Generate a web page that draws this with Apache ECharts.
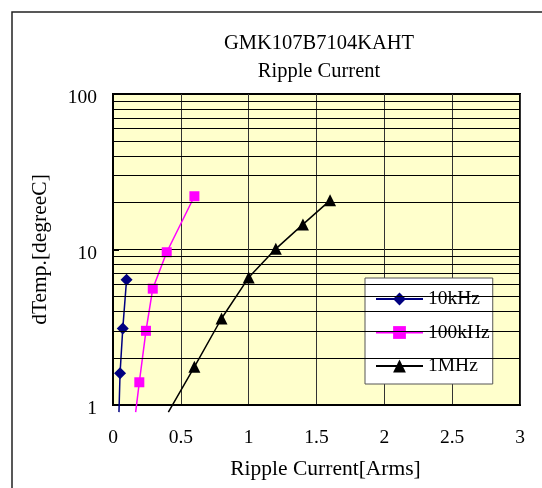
<!DOCTYPE html>
<html>
<head>
<meta charset="utf-8">
<script src="https://cdn.jsdelivr.net/npm/echarts@6/dist/echarts.min.js"></script>
<style>html,body{margin:0;padding:0;background:#fff;}#c{width:542px;height:488px;}</style>
</head>
<body>
<div id="c"></div>
<script>
// ---- data ----
var titleLines = ['GMK107B7104KAHT', 'Ripple Current'];
var xTicks = [0, 0.5, 1, 1.5, 2, 2.5, 3];
var yTicks = [1, 10, 100];
var minorGridValues = [2, 3, 4, 5, 6, 7, 8, 9, 20, 30, 40, 50, 60, 70, 80, 90];
var seriesNames = ['10kHz', '100kHz', '1MHz'];
// [current (Arms), dTemp (degC)]; first point of each lies just below the axis (drawn without marker)
var s10kHz = [[0.044, 0.9], [0.052, 1.6], [0.072, 3.1], [0.10, 6.4]];
var s100kHz = [[0.167, 0.9], [0.194, 1.4], [0.243, 3.0], [0.293, 5.6], [0.396, 9.6], [0.60, 22]];
var s1MHz = [[0.408, 0.9], [0.60, 1.76], [0.80, 3.6], [1.00, 6.6], [1.20, 10.1], [1.40, 14.5], [1.60, 20.7]];

var FONT = '"Liberation Serif", "Times New Roman", serif';

function toData(arr) {
  return arr.map(function (p) {
    if (p[1] < 1) return { value: p, symbol: 'none' };
    return { value: p };
  });
}

var chart = echarts.init(document.getElementById('c'), null, { renderer: 'canvas' });
var option = {
  animation: false,
  backgroundColor: '#ffffff',
  textStyle: { fontFamily: FONT },
  title: {
    text: titleLines.join('\n'),
    left: 314, top: 25, textAlign: 'center',
    textStyle: { fontFamily: FONT, fontSize: 20.5, fontWeight: 'normal', color: '#000', lineHeight: 28 }
  },
  grid: {
    left: 113, top: 94, right: 22, bottom: 83,
    show: true, backgroundColor: '#FFFFCC', borderColor: '#000', borderWidth: 2
  },
  legend: {
    orient: 'vertical',
    left: 365, top: 278,
    backgroundColor: '#fff', borderColor: '#555', borderWidth: 1,
    padding: [11, 3, 8, 10],
    itemWidth: 47, itemHeight: 16, itemGap: 13.5, itemTextGap: 6,
    textStyle: { fontFamily: FONT, fontSize: 19.5, color: '#000' },
    data: seriesNames
  },
  xAxis: {
    type: 'value', min: xTicks[0], max: xTicks[xTicks.length - 1], interval: 0.5,
    name: 'Ripple Current[Arms]', nameLocation: 'middle', nameGap: 53,
    nameTextStyle: { fontFamily: FONT, fontSize: 21.5, color: '#000', padding: [0, 0, 0, 18] },
    axisLine: { show: true, lineStyle: { color: '#000', width: 2 } },
    axisTick: { show: false },
    splitLine: { show: true, lineStyle: { color: '#333', width: 1 } },
    axisLabel: { fontFamily: FONT, fontSize: 19.5, color: '#000', margin: 23 }
  },
  yAxis: {
    type: 'log', logBase: 10, min: yTicks[0], max: yTicks[yTicks.length - 1],
    name: 'dTemp.[degreeC]', nameLocation: 'middle', nameGap: 62, nameRotate: 90,
    nameTextStyle: { fontFamily: FONT, fontSize: 21.5, color: '#000' },
    axisLine: { show: true, lineStyle: { color: '#000', width: 2 } },
    axisTick: { show: true, inside: true, length: 6, lineStyle: { color: '#000', width: 2 } },
    splitLine: { show: true, lineStyle: { color: '#000', width: 1 } },
    axisLabel: {
      fontFamily: FONT, fontSize: 19.5, color: '#000', margin: 16,
      formatter: '{v|{value}}',
      rich: { v: { fontFamily: FONT, fontSize: 19.5, color: '#000', padding: [8, 0, 0, 0] } }
    }
  },
  graphic: [{
    type: 'rect', silent: true, z: -10,
    shape: { x: 12, y: 12, width: 580, height: 520 },
    style: { fill: 'none', stroke: '#222', lineWidth: 1.5 }
  }],
  series: [
    {
      type: 'line', name: '__grid', data: [], silent: true, z: 1,
      markLine: {
        silent: true, symbol: 'none', label: { show: false },
        lineStyle: { color: '#000', width: 1, type: 'solid' },
        data: minorGridValues.map(function (v) { return { yAxis: v }; })
      }
    },
    {
      type: 'line', name: seriesNames[0], data: toData(s10kHz), clip: false, z: 3,
      symbol: 'diamond', symbolSize: 12,
      itemStyle: { color: '#000080' }, lineStyle: { color: '#000080', width: 1.5 }
    },
    {
      type: 'line', name: seriesNames[1], data: toData(s100kHz), clip: false, z: 3,
      symbol: 'rect', symbolSize: 10,
      itemStyle: { color: '#FF00FF' }, lineStyle: { color: '#FF00FF', width: 1.5 }
    },
    {
      type: 'line', name: seriesNames[2], data: toData(s1MHz), clip: false, z: 3,
      symbol: 'triangle', symbolSize: 12,
      itemStyle: { color: '#000000' }, lineStyle: { color: '#000000', width: 1.5 }
    }
  ]
};
chart.setOption(option);
</script>
</body>
</html>
